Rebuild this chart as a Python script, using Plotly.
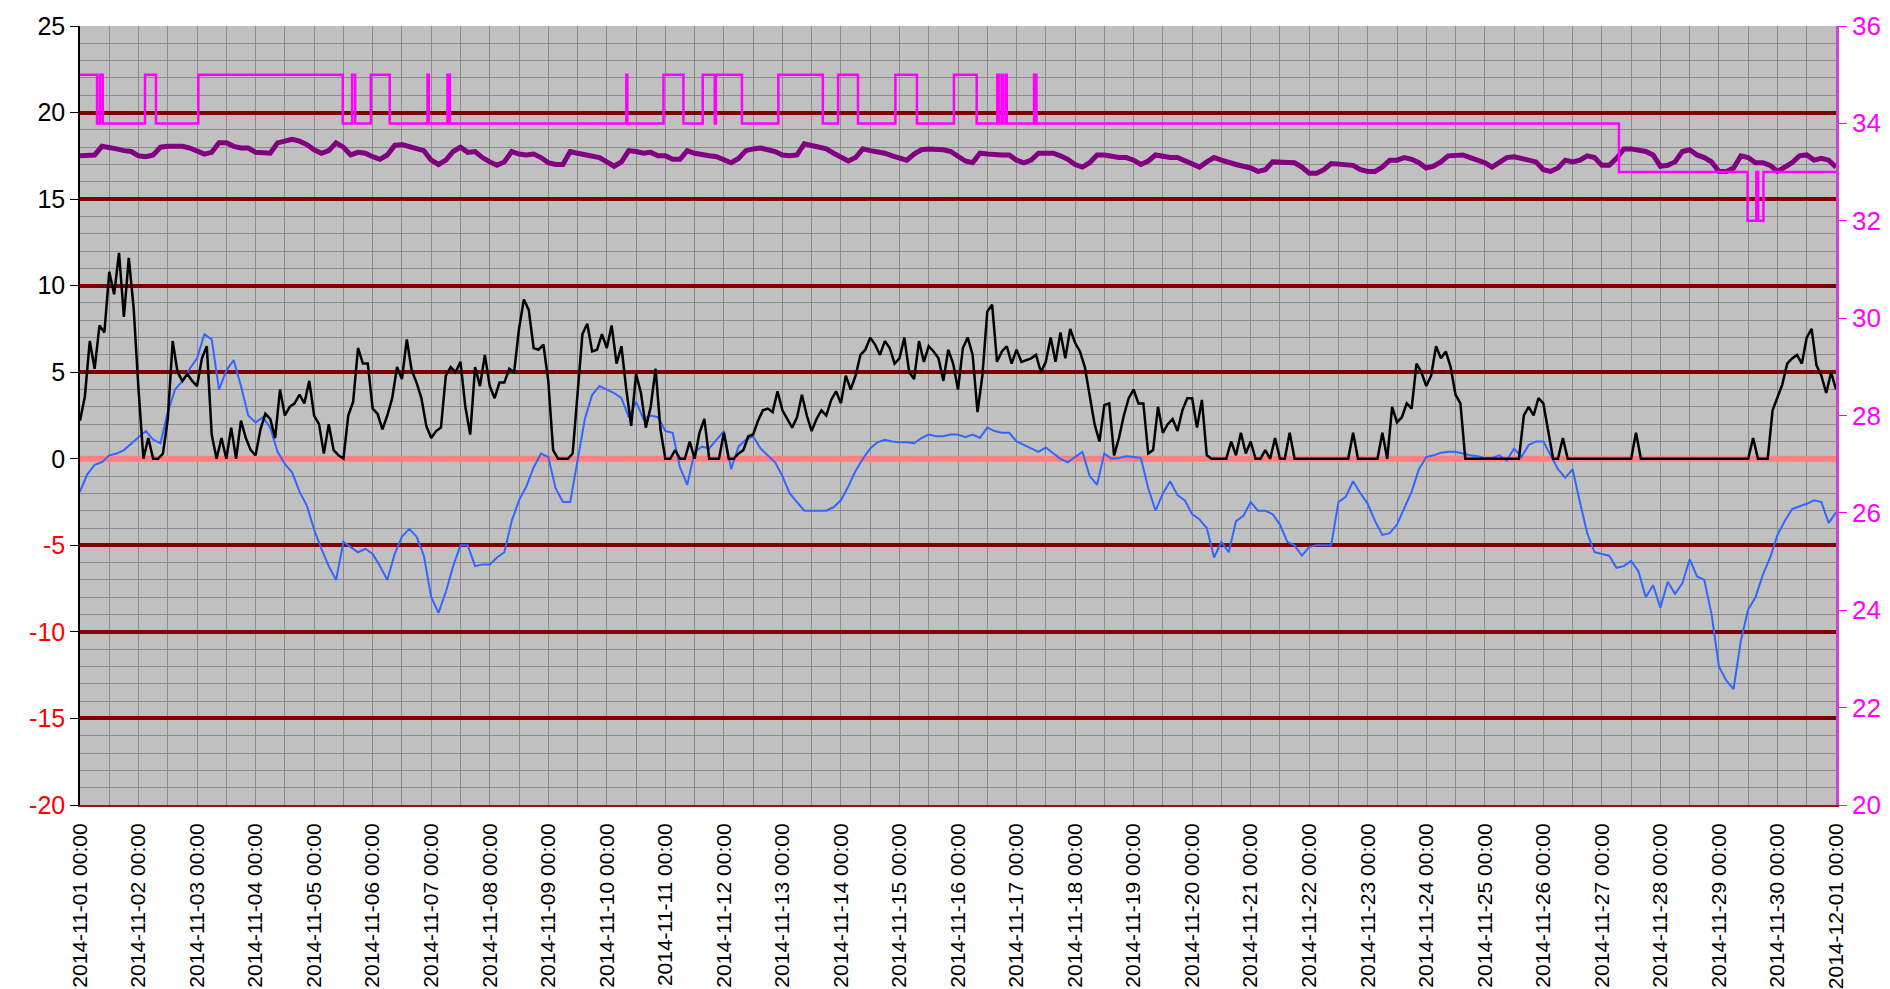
import pandas as pd
import plotly.graph_objects as go

# ---------------- data ----------------
# black series, 2-hourly from 2014-11-01 00:00 to 2014-12-01 00:00 (left axis)
black_vals = [
    2.2, 3.6, 6.8, 5.2, 7.7, 7.3, 10.8, 9.5, 11.9, 8.2, 11.6, 8.7,
    4.0, 0.0, 1.2, 0.0, 0.0, 0.3, 2.3, 6.8, 5.0, 4.5, 4.9, 4.5,
    4.2, 5.8, 6.5, 1.4, 0.0, 1.2, 0.0, 1.8, 0.0, 2.2, 1.2, 0.5,
    0.2, 1.7, 2.6, 2.3, 1.2, 4.0, 2.5, 3.0, 3.2, 3.7, 3.2, 4.5,
    2.5, 2.0, 0.3, 2.0, 0.5, 0.2, 0.0, 2.5, 3.3, 6.4, 5.5, 5.5,
    2.9, 2.6, 1.7, 2.5, 3.5, 5.3, 4.6, 6.9, 5.1, 4.4, 3.5, 1.9,
    1.2, 1.6, 1.8, 4.8, 5.3, 5.0, 5.6, 3.0, 1.4, 5.3, 4.2, 6.0,
    4.2, 3.5, 4.4, 4.4, 5.2, 5.0, 7.5, 9.2, 8.6, 6.4, 6.3, 6.6,
    4.5, 0.5, 0.0, 0.0, 0.0, 0.3, 3.6, 7.2, 7.8, 6.2, 6.3, 7.2,
    6.4, 7.7, 5.5, 6.5, 4.0, 1.9, 4.9, 3.8, 1.8, 3.0, 5.2, 1.7,
    0.0, 0.0, 0.5, 0.0, 0.0, 1.0, 0.0, 1.5, 2.3, 0.0, 0.0, 0.0,
    1.5, 0.0, 0.0, 0.3, 0.5, 1.3, 1.4, 2.2, 2.8, 2.9, 2.7, 3.9,
    2.8, 2.3, 1.8, 2.4, 3.7, 2.5, 1.6, 2.3, 2.8, 2.5, 3.4, 3.9,
    3.2, 4.8, 4.0, 4.8, 6.0, 6.3, 7.0, 6.6, 6.0, 6.8, 6.4, 5.5,
    5.8, 7.0, 5.0, 4.6, 6.8, 5.6, 6.5, 6.2, 5.8, 4.5, 6.3, 5.5,
    4.0, 6.4, 7.0, 6.0, 2.7, 4.8, 8.5, 8.9, 5.6, 6.2, 6.5, 5.5,
    6.3, 5.6, 5.7, 5.8, 6.0, 5.0, 5.6, 7.0, 5.6, 7.3, 5.8, 7.5,
    6.7, 6.2, 5.3, 3.7, 2.0, 1.0, 3.1, 3.2, 0.2, 1.2, 2.5, 3.5,
    4.0, 3.2, 3.2, 0.3, 0.5, 3.0, 1.5, 2.0, 2.3, 1.6, 2.8, 3.5,
    3.5, 1.8, 3.4, 0.2, 0.0, 0.0, 0.0, 0.0, 1.0, 0.2, 1.5, 0.3,
    1.0, 0.0, 0.0, 0.5, 0.0, 1.2, 0.0, 0.0, 1.5, 0.0, 0.0, 0.0,
    0.0, 0.0, 0.0, 0.0, 0.0, 0.0, 0.0, 0.0, 0.0, 1.5, 0.0, 0.0,
    0.0, 0.0, 0.0, 1.5, 0.0, 3.0, 2.1, 2.4, 3.2, 2.9, 5.5, 5.0,
    4.2, 4.8, 6.5, 5.8, 6.2, 5.3, 3.7, 3.2, 0.0, 0.0, 0.0, 0.0,
    0.0, 0.0, 0.0, 0.0, 0.0, 0.0, 0.0, 0.0, 2.5, 3.0, 2.5, 3.5,
    3.2, 1.5, 0.0, 0.0, 1.2, 0.0, 0.0, 0.0, 0.0, 0.0, 0.0, 0.0,
    0.0, 0.0, 0.0, 0.0, 0.0, 0.0, 0.0, 1.5, 0.0, 0.0, 0.0, 0.0,
    0.0, 0.0, 0.0, 0.0, 0.0, 0.0, 0.0, 0.0, 0.0, 0.0, 0.0, 0.0,
    0.0, 0.0, 0.0, 0.0, 0.0, 0.0, 0.0, 1.2, 0.0, 0.0, 0.0, 2.8,
    3.5, 4.3, 5.5, 5.8, 6.0, 5.5, 7.0, 7.5, 5.4, 4.8, 3.8, 5.0,
    4.0,
]

# blue series, 3-hourly (left axis)
blue_vals = [
    -1.9, -0.9, -0.35, -0.2, 0.2, 0.3, 0.5, 0.9,
    1.25, 1.6, 1.1, 0.9, 2.7, 4.0, 4.5, 5.2,
    5.8, 7.2, 6.9, 4.0, 5.1, 5.7, 4.2, 2.5,
    2.1, 2.4, 1.8, 0.4, -0.3, -0.8, -1.9, -2.7,
    -4.1, -5.2, -6.2, -7.0, -4.8, -5.1, -5.4, -5.2,
    -5.5, -6.2, -7.0, -5.5, -4.5, -4.05, -4.5, -5.6,
    -8.0, -8.9, -7.7, -6.2, -5.0, -5.0, -6.2, -6.1,
    -6.1, -5.7, -5.4, -3.6, -2.4, -1.6, -0.5, 0.3,
    0.1, -1.7, -2.5, -2.5, -0.1, 2.3, 3.7, 4.2,
    4.0, 3.8, 3.5, 2.4, 3.3, 2.3, 2.5, 2.4,
    1.6, 1.5, -0.5, -1.5, 0.4, 0.7, 0.6, 1.1,
    1.6, -0.6, 0.7, 1.1, 1.3, 0.6, 0.2, -0.2,
    -1.0, -2.0, -2.5, -3.0, -3.0, -3.0, -3.0, -2.8,
    -2.4, -1.6, -0.7, 0.0, 0.6, 0.95, 1.1, 1.0,
    0.95, 0.95, 0.9, 1.2, 1.4, 1.3, 1.3, 1.4,
    1.4, 1.25, 1.4, 1.2, 1.8, 1.6, 1.5, 1.5,
    1.0, 0.8, 0.6, 0.4, 0.65, 0.3, 0.0, -0.2,
    0.1, 0.4, -1.0, -1.5, 0.3, 0.0, 0.05, 0.15,
    0.1, 0.05, -1.7, -3.0, -2.0, -1.3, -2.1, -2.4,
    -3.2, -3.5, -4.0, -5.7, -4.8, -5.4, -3.6, -3.3,
    -2.5, -3.0, -3.0, -3.2, -3.8, -4.8, -5.0, -5.6,
    -5.1, -5.0, -5.0, -5.0, -2.5, -2.2, -1.3, -2.0,
    -2.6, -3.6, -4.4, -4.3, -3.8, -2.9, -1.9, -0.6,
    0.1, 0.2, 0.35, 0.4, 0.4, 0.3, 0.2, 0.15,
    0.05, 0.05, 0.2, -0.1, 0.6, 0.1, 0.8, 1.0,
    1.0, 0.2, -0.6, -1.1, -0.6, -2.5, -4.3, -5.4,
    -5.5, -5.6, -6.3, -6.2, -5.9, -6.5, -8.0, -7.3,
    -8.6, -7.1, -7.8, -7.2, -5.8, -6.8, -7.0, -9.0,
    -12.0, -12.8, -13.3, -10.5, -8.7, -8.0, -6.7, -5.7,
    -4.4, -3.6, -2.9, -2.75, -2.6, -2.4, -2.5, -3.7,
    -3.1,
]

# purple series, 3-hourly (left axis)
purple_vals = [
    17.5, 17.5, 17.55, 18.05, 18.0, 17.9, 17.8, 17.75,
    17.5, 17.45, 17.55, 18.0, 18.05, 18.05, 18.05, 17.95,
    17.8, 17.6, 17.7, 18.25, 18.25, 18.05, 17.95, 17.95,
    17.7, 17.65, 17.65, 18.25, 18.35, 18.45, 18.35, 18.15,
    17.85, 17.65, 17.8, 18.25, 18.0, 17.55, 17.7, 17.65,
    17.45, 17.3, 17.55, 18.1, 18.15, 18.05, 17.9, 17.8,
    17.25, 17.0, 17.25, 17.75, 18.0, 17.7, 17.75, 17.4,
    17.15, 16.95, 17.15, 17.75, 17.6, 17.55, 17.6, 17.4,
    17.1, 17.0, 17.0, 17.75, 17.65, 17.55, 17.5, 17.4,
    17.15, 16.9, 17.15, 17.8, 17.75, 17.65, 17.7, 17.5,
    17.5, 17.3, 17.3, 17.8, 17.65, 17.55, 17.5, 17.45,
    17.25, 17.1, 17.35, 17.8, 17.9, 17.95, 17.85, 17.75,
    17.55, 17.5, 17.55, 18.2, 18.1, 18.0, 17.9, 17.65,
    17.4, 17.2, 17.4, 17.9, 17.8, 17.75, 17.65, 17.5,
    17.4, 17.25, 17.6, 17.85, 17.9, 17.9, 17.85, 17.75,
    17.45, 17.2, 17.1, 17.65, 17.6, 17.55, 17.55, 17.55,
    17.25, 17.1, 17.25, 17.65, 17.65, 17.65, 17.5, 17.3,
    17.0, 16.85, 17.1, 17.55, 17.55, 17.45, 17.4, 17.4,
    17.25, 17.0, 17.2, 17.55, 17.45, 17.4, 17.4, 17.2,
    17.0, 16.85, 17.15, 17.4, 17.25, 17.1, 17.0, 16.9,
    16.8, 16.6, 16.7, 17.15, 17.15, 17.15, 17.1, 16.85,
    16.5, 16.5, 16.7, 17.05, 17.0, 17.0, 16.95, 16.7,
    16.6, 16.6, 16.85, 17.25, 17.25, 17.4, 17.3, 17.1,
    16.8, 16.9, 17.15, 17.5, 17.55, 17.55, 17.4, 17.25,
    17.1, 16.85, 17.15, 17.4, 17.45, 17.35, 17.3, 17.15,
    16.7, 16.6, 16.8, 17.25, 17.15, 17.25, 17.5, 17.4,
    16.95, 16.95, 17.35, 17.9, 17.9, 17.8, 17.75, 17.55,
    16.9, 16.95, 17.15, 17.75, 17.85, 17.55, 17.4, 17.15,
    16.6, 16.6, 16.8, 17.5, 17.4, 17.1, 17.1, 16.95,
    16.6, 16.85, 17.1, 17.5, 17.55, 17.25, 17.35, 17.25,
    16.85,
]

# magenta step series (right axis): change times and values
magenta_times = [
    "2014-11-01 00:00", "2014-11-01 07:00", "2014-11-01 08:10", "2014-11-01 09:20",
    "2014-11-02 02:40", "2014-11-02 07:10", "2014-11-03 00:30", "2014-11-05 11:45",
    "2014-11-05 15:35", "2014-11-05 16:50", "2014-11-05 23:15", "2014-11-06 07:00",
    "2014-11-06 22:30", "2014-11-06 23:00", "2014-11-07 06:40", "2014-11-07 07:40",
    "2014-11-10 08:00", "2014-11-10 08:25", "2014-11-10 23:15", "2014-11-11 07:25",
    "2014-11-11 15:20", "2014-11-11 20:15", "2014-11-11 20:45", "2014-11-12 07:25",
    "2014-11-12 22:20", "2014-11-13 16:35", "2014-11-13 22:50", "2014-11-14 07:00",
    "2014-11-14 22:20", "2014-11-15 07:10", "2014-11-15 22:20", "2014-11-16 07:40",
    "2014-11-16 16:05", "2014-11-16 16:40", "2014-11-16 17:50", "2014-11-16 18:20",
    "2014-11-16 19:30", "2014-11-16 20:00", "2014-11-17 07:10", "2014-11-17 08:10",
    "2014-11-27 07:00", "2014-11-29 11:45", "2014-11-29 15:20", "2014-11-29 16:05",
    "2014-11-29 18:15", "2014-12-01 00:00",
]
magenta_vals = [
    35, 34, 35, 34,
    35, 34, 35, 34,
    35, 34, 35, 34,
    35, 34, 35, 34,
    35, 34, 35, 34,
    35, 34, 35, 34,
    35, 34, 35, 34,
    35, 34, 35, 34,
    35, 34, 35, 34,
    35, 34, 35, 34,
    33, 32, 33, 32,
    33, 33,
]

# zero reference line, points every 12 h
zero_vals = [0.0] * 61

left_tick_vals = [-20, -15, -10, -5, 0, 5, 10, 15, 20, 25]
right_tick_vals = [20, 22, 24, 26, 28, 30, 32, 34, 36]

# ---------------- figure ----------------
t_black = pd.date_range("2014-11-01 00:00", periods=len(black_vals), freq="2h")
t_blue = pd.date_range("2014-11-01 00:00", periods=len(blue_vals), freq="3h")
t_purple = pd.date_range("2014-11-01 00:00", periods=len(purple_vals), freq="3h")
t_zero = pd.date_range("2014-11-01 00:00", periods=len(zero_vals), freq="12h")

FONT = "Liberation Sans, Arial, sans-serif"

fig = go.Figure()
fig.add_trace(go.Scatter(
    x=t_zero, y=zero_vals, mode="lines+markers",
    line=dict(color="#FF8080", width=6),
    marker=dict(symbol="triangle-down", size=9, color="#FF8080"),
    hoverinfo="skip", showlegend=False))
fig.add_trace(go.Scatter(
    x=t_purple, y=purple_vals, mode="lines",
    line=dict(color="#800080", width=5), showlegend=False))
fig.add_trace(go.Scatter(
    x=pd.to_datetime(magenta_times), y=magenta_vals, mode="lines",
    line=dict(color="#FF00FF", width=2.5, shape="hv"), yaxis="y2", showlegend=False))
fig.add_trace(go.Scatter(
    x=t_blue, y=blue_vals, mode="lines",
    line=dict(color="#3366FF", width=2), showlegend=False))
fig.add_trace(go.Scatter(
    x=t_black, y=black_vals, mode="lines",
    line=dict(color="#000000", width=2.5), showlegend=False))

left_tick_text = [
    (f'<span style="color:#FF0000">{v}</span>' if v < 0 else str(v)) for v in left_tick_vals
]

fig.update_layout(
    width=1890, height=989,
    margin=dict(l=80, r=54, t=26, b=184),
    paper_bgcolor="white",
    plot_bgcolor="#C0C0C0",
    font=dict(family=FONT, color="black"),
    showlegend=False,
    xaxis=dict(
        type="date",
        range=["2014-11-01 00:00", "2014-12-01 00:00"],
        dtick=86400000,
        tick0="2014-11-01",
        tickformat="%Y-%m-%d %H:%M",
        tickangle=-90,
        tickfont=dict(size=21, color="black"),
        ticklabelstandoff=8,
        automargin=False,
        showgrid=True, gridcolor="#8C8C8C", gridwidth=1,
        minor=dict(dtick=43200000, showgrid=True, gridcolor="#8C8C8C", gridwidth=1),
        ticks="", showline=True, linecolor="#8B1A1A", linewidth=2,
        zeroline=False,
    ),
    yaxis=dict(
        range=[-20, 25],
        tickvals=left_tick_vals, ticktext=left_tick_text,
        tickfont=dict(size=25, color="black"),
        automargin=False,
        showgrid=True, gridcolor="#800000", gridwidth=4,
        minor=dict(dtick=1, showgrid=True, gridcolor="#8C8C8C", gridwidth=1),
        ticks="outside", ticklen=8, tickcolor="black",
        showline=True, linecolor="black", linewidth=1.5,
        zeroline=False,
    ),
    yaxis2=dict(
        range=[20, 36], overlaying="y", side="right",
        tickvals=right_tick_vals,
        tickfont=dict(size=26, color="#FF00FF"),
        automargin=False,
        showgrid=False, zeroline=False,
        ticks="outside", ticklen=8, tickcolor="#FF00FF",
        showline=True, linecolor="#CC44CC", linewidth=2.5,
    ),
)

fig.write_html(
    "out.html",
    config={"displayModeBar": False},
    post_script="document.body.style.margin='0';document.body.style.overflow='hidden';",
)
